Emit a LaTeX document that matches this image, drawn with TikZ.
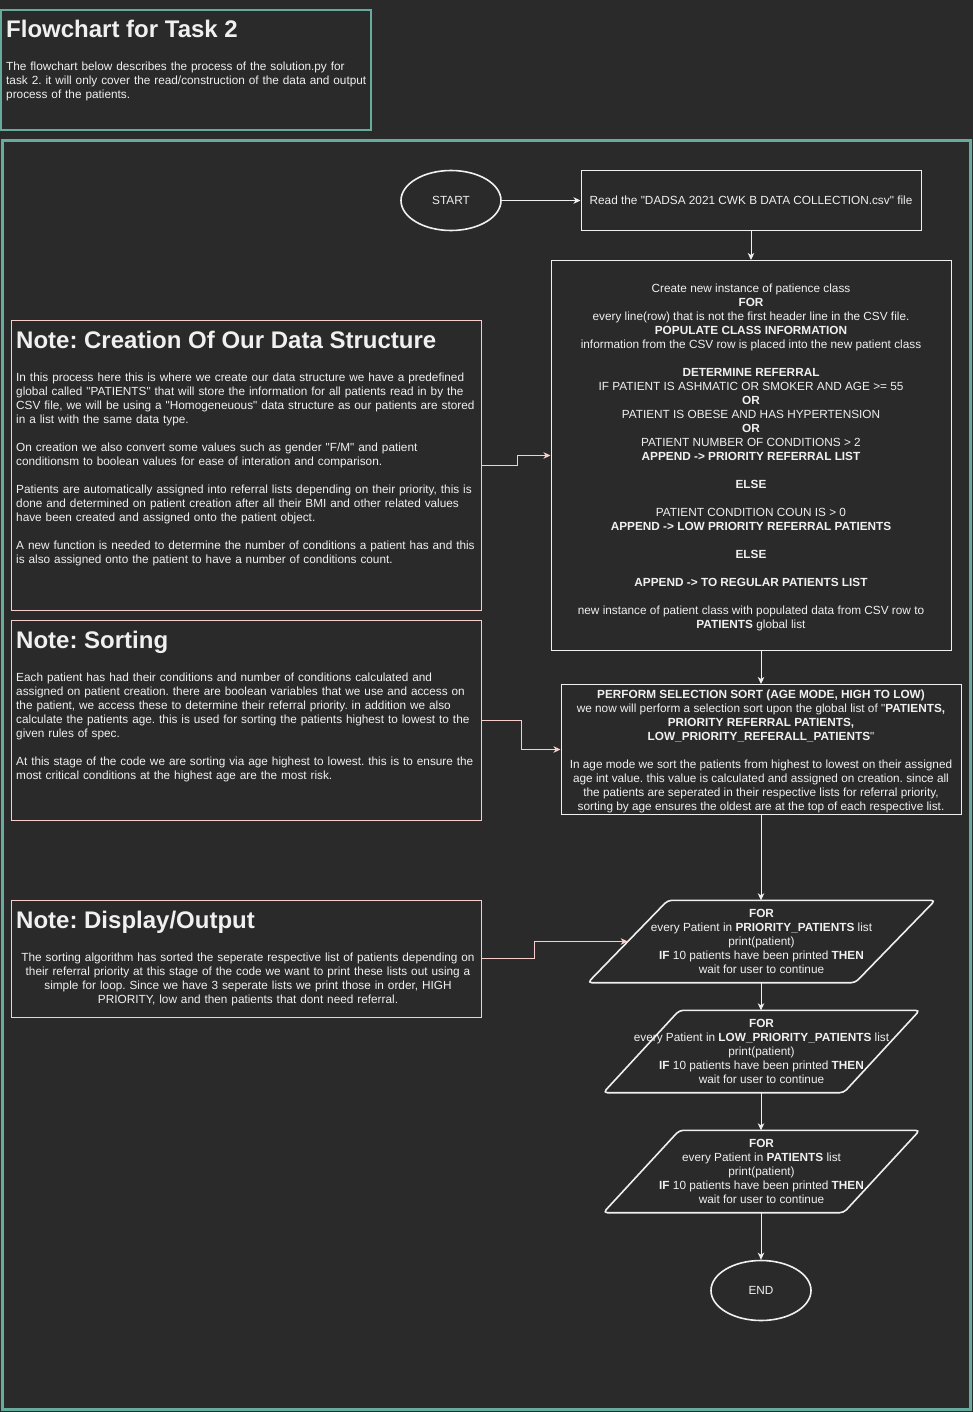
\documentclass[tikz,border=0pt]{standalone}
\usepackage{fontspec}
\setmainfont{Liberation Sans}[Ligatures=TeXOff]
\usetikzlibrary{arrows.meta,shapes.geometric,calc}
\frenchspacing
% taller first line, to balance the descenders of the last line
\newcommand{\firststrut}{\rule{0pt}{11.5pt}}

\definecolor{canvas}{HTML}{2A2A2A}
\definecolor{ink}{HTML}{F0F0F0}
\definecolor{frameteal}{HTML}{67AB9F}
\definecolor{notepink}{HTML}{F8CECC}

\tikzset{
  body/.style={text=ink, font=\fontsize{11.8}{14}\selectfont\frenchspacing},
  heading/.style={text=ink, font=\fontsize{24}{28}\selectfont\bfseries\frenchspacing, inner sep=0pt, anchor=base west},
  para/.style={body, inner sep=0pt, text width=480pt, align=left, anchor=base west},
  procbox/.style={body, draw=ink, line width=1pt, inner sep=0pt, align=center},
  terminal/.style={body, ellipse, draw=ink, line width=1.6pt, inner sep=0pt,
    minimum width=100pt, minimum height=60pt},
  iobox/.style={body, inner sep=0pt, align=center, minimum height=82pt},
  iopath/.style={draw=ink, line width=1.6pt, rounded corners=4pt},
  notebox/.style={draw=notepink, line width=1pt, inner sep=0pt},
  flow/.style={draw=ink, line width=1pt, -{Stealth[length=7pt,width=6.5pt,inset=2pt]}},
  link/.style={draw=notepink, line width=1pt, -{Stealth[length=7pt,width=6.5pt,inset=2pt]}},
}

\begin{document}
\begin{tikzpicture}[x=1pt,y=-1pt]
\fill[canvas] (0,0) rectangle (973,1412);
\useasboundingbox (0,0) rectangle (973,1412);

% heading block
\node[draw=frameteal, line width=1.2pt, inner sep=0pt, minimum width=370pt, minimum height=120pt] (titlebox) at (186,70) {};
\node[heading] (title) at (6,38) {Flowchart for Task 2};
\node[para] (intro) at (6,71) {The flowchart below describes the process of the solution.py for\\
task 2. it will only cover the read/construction of the data and output\\
process of the patients.};

% outer frame of the chart
\node[draw=frameteal, line width=3pt, inner sep=0pt, minimum width=968pt, minimum height=1268pt] (frame) at (486.5,775) {};

% main flow
\node[terminal] (start) at (451,200.5) {START};
\node[procbox, minimum width=340pt, minimum height=60pt] (read) at (751,200.5)
  {Read the "DADSA 2021 CWK B DATA COLLECTION.csv" file};

\node[procbox, minimum width=400pt, minimum height=390pt] (create) at (751,455.5) {%
\firststrut Create new instance of patience class\\
\textbf{FOR}\\
every line(row) that is not the first header line in the CSV file.\\
\textbf{POPULATE CLASS INFORMATION}\\
information from the CSV row is placed into the new patient class\\[14pt]
\textbf{DETERMINE REFERRAL}\\
IF PATIENT IS ASHMATIC OR SMOKER AND AGE >= 55\\
\textbf{OR}\\
PATIENT IS OBESE AND HAS HYPERTENSION\\
\textbf{OR}\\
PATIENT NUMBER OF CONDITIONS > 2\\
\textbf{APPEND -> PRIORITY REFERRAL LIST}\\[14pt]
\textbf{ELSE}\\[14pt]
PATIENT CONDITION COUN IS > 0\\
\textbf{APPEND -> LOW PRIORITY REFERRAL PATIENTS}\\[14pt]
\textbf{ELSE}\\[14pt]
\textbf{APPEND -> TO REGULAR PATIENTS LIST}\\[14pt]
new instance of patient class with populated data from CSV row to\\
\textbf{PATIENTS} global list};

\node[procbox, minimum width=400pt, minimum height=130pt] (sort) at (761,749.5) {%
\firststrut\textbf{PERFORM SELECTION SORT (AGE MODE, HIGH TO LOW)}\\
we now will perform a selection sort upon the global list of "\textbf{PATIENTS,}\\
\textbf{PRIORITY REFERRAL PATIENTS,}\\
\textbf{LOW\_PRIORITY\_REFERALL\_PATIENTS}"\\[14pt]
In age mode we sort the patients from highest to lowest on their assigned\\
age int value. this value is calculated and assigned on creation. since all\\
the patients are seperated in their respective lists for referral priority,\\
sorting by age ensures the oldest are at the top of each respective list.};

\node[iobox, minimum width=347pt] (forhigh) at (761.5,941.5) {%
\textbf{FOR}\\
every Patient in \textbf{PRIORITY\_PATIENTS} list\\
print(patient)\\
\textbf{IF} 10 patients have been printed \textbf{THEN}\\
wait for user to continue};
\draw[iopath] (forhigh.south west) -- ($(forhigh.north west)+(80,0)$) -- (forhigh.north east)
  -- ($(forhigh.south east)+(-80,0)$) -- cycle;

\node[iobox, minimum width=316pt] (forlow) at (761.5,1051.5) {%
\textbf{FOR}\\
every Patient in \textbf{LOW\_PRIORITY\_PATIENTS} list\\
print(patient)\\
\textbf{IF} 10 patients have been printed \textbf{THEN}\\
wait for user to continue};
\draw[iopath] (forlow.south west) -- ($(forlow.north west)+(76,0)$) -- (forlow.north east)
  -- ($(forlow.south east)+(-76,0)$) -- cycle;

\node[iobox, minimum width=316pt] (forall) at (761.5,1171.5) {%
\textbf{FOR}\\
every Patient in \textbf{PATIENTS} list\\
print(patient)\\
\textbf{IF} 10 patients have been printed \textbf{THEN}\\
wait for user to continue};
\draw[iopath] (forall.south west) -- ($(forall.north west)+(76,0)$) -- (forall.north east)
  -- ($(forall.south east)+(-76,0)$) -- cycle;

\node[terminal] (end) at (761,1290.5) {END};

\draw[flow] (start.east) -- (read.west);
\draw[flow] (read.south) -- (create.north);
\draw[flow] (create.south -| sort.north) -- (sort.north);
\draw[flow] (sort.south) -- (sort.south |- forhigh.north);
\draw[flow] (forhigh.south -| end.north) -- (forlow.north -| end.north);
\draw[flow] (forlow.south -| end.north) -- (forall.north -| end.north);
\draw[flow] (forall.south -| end.north) -- (end.north);

% notes
\node[notebox, minimum width=470pt, minimum height=290pt] (notedata) at (246,465) {};
\node[heading] (notedatahead) at (16,348) {Note: Creation Of Our Data Structure};
\node[para] (notedatabody) at (16,381) {%
In this process here this is where we create our data structure we have a predefined\\
global called "PATIENTS" that will store the information for all patients read in by the\\
CSV file, we will be using a "Homogeneuous" data structure as our patients are stored\\
in a list with the same data type.\\[14pt]
On creation we also convert some values such as gender "F/M" and patient\\
conditionsm to boolean values for ease of interation and comparison.\\[14pt]
Patients are automatically assigned into referral lists depending on their priority, this is\\
done and determined on patient creation after all their BMI and other related values\\
have been created and assigned onto the patient object.\\[14pt]
A new function is needed to determine the number of conditions a patient has and this\\
is also assigned onto the patient to have a number of conditions count.};

\node[notebox, minimum width=470pt, minimum height=200pt] (notesort) at (246,720) {};
\node[heading] (notesorthead) at (16,648) {Note: Sorting};
\node[para] (notesortbody) at (16,681) {%
Each patient has had their conditions and number of conditions calculated and\\
assigned on patient creation. there are boolean variables that we use and access on\\
the patient, we access these to determine their referral priority. in addition we also\\
calculate the patients age. this is used for sorting the patients highest to lowest to the\\
given rules of spec.\\[14pt]
At this stage of the code we are sorting via age highest to lowest. this is to ensure the\\
most critical conditions at the highest age are the most risk.};

\node[notebox, minimum width=470pt, minimum height=117pt] (noteout) at (246,958.5) {};
\node[heading] (noteouthead) at (16,928) {Note: Display/Output};
\node[body, inner sep=0pt, text width=480pt, align=center, anchor=base] (noteoutbody) at (248,961) {%
The sorting algorithm has sorted the seperate respective list of patients depending on\\
their referral priority at this stage of the code we want to print these lists out using a\\
simple for loop. Since we have 3 seperate lists we print those in order, HIGH\\
PRIORITY, low and then patients that dont need referral.};

% note connectors
\coordinate (forhighedge) at ($(forhigh.west)+(40,0)$);
\draw[link] (notedata.east) -- ++(36,0) |- (create.west);
\draw[link] (notesort.east) -- ++(40,0) |- (sort.west);
\draw[link] (noteout.east) -- ++(53,0) |- (forhighedge);
\end{tikzpicture}
\end{document}
